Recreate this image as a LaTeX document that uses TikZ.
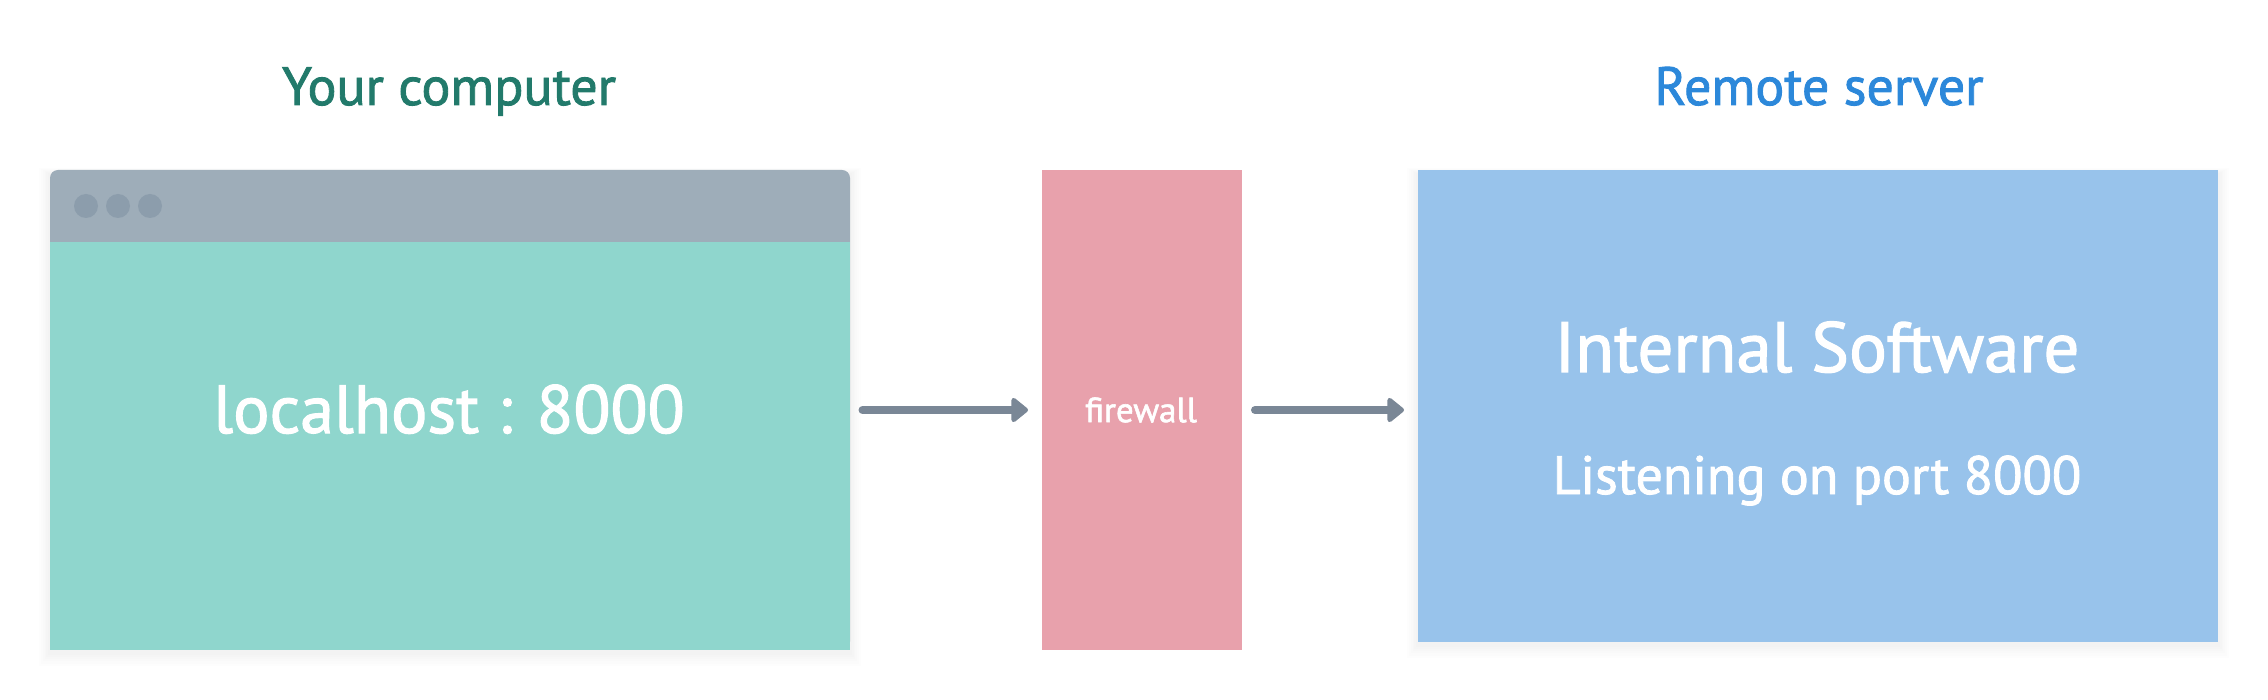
\documentclass[tikz,border=0pt]{standalone}
\usepackage{fontspec}
\setmainfont{PT Sans}[RawFeature={embolden=1.6}]
\usetikzlibrary{arrows.meta,calc}
\definecolor{barcol}{HTML}{9EADB9}
\definecolor{dotcol}{HTML}{8C9DAC}
\definecolor{bodycol}{HTML}{8FD6CD}
\definecolor{fwcol}{HTML}{E8A1AC}
\definecolor{srvcol}{HTML}{98C3EB}
\definecolor{arrcol}{HTML}{7A8796}
\definecolor{greentext}{HTML}{227A6B}
\definecolor{bluetext}{HTML}{2C88DA}
\tikzset{
  panel/.style={rectangle, inner sep=0pt, outer sep=0pt, draw=none},
  dot/.style={circle, fill=dotcol, minimum size=24pt, inner sep=0pt},
  title/.style={anchor=base, inner sep=0pt, font=\fontsize{54}{60}\selectfont},
  bigtext/.style={anchor=base, inner sep=0pt, text=white},
  arr/.style={draw=arrcol, line width=8pt, line cap=round, -{Triangle[length=18pt,width=28pt,round]}},
}
\newcommand{\softshadow}[4]{%
  \foreach \k in {1,...,6}{%
    \fill[black, opacity=0.006] ($(#1,#2)+(-\k*1.8,-\k*1.0+4)$) rectangle ($(#3,#4)+(\k*1.8,\k*2.2+3)$);
  }}
\begin{document}
\begin{tikzpicture}[x=1pt,y=-1pt]
\useasboundingbox (0,0) rectangle (2268,700);
\fill[white] (0,0) rectangle (2268,700);
% shadows
\softshadow{50}{170}{850}{649.5}
\softshadow{1418}{170}{2218}{641.5}
% window
\node[panel, fill=barcol, rounded corners=8pt, minimum width=800pt, minimum height=479.5pt, anchor=north west] (win) at (50,170) {};
\node[panel, fill=bodycol, minimum width=800pt, minimum height=407.5pt, anchor=north west] (winbody) at (50,242) {};
\node[dot] (d1) at (86,206) {};
\node[dot] (d2) at (118,206) {};
\node[dot] (d3) at (150,206) {};
\node[bigtext, font=\fontsize{68}{72}\selectfont] (lh) at (449,433) {localhost : 8000};
% firewall
\node[panel, fill=fwcol, minimum width=200pt, minimum height=480pt] (fw) at (1142,410) {};
\node[text=white, inner sep=0pt, font=\fontsize{35}{38}\selectfont] (fwt) at (1141,410) {firewall};
% server
\node[panel, fill=srvcol, minimum width=800pt, minimum height=471.5pt, anchor=north west] (srv) at (1418,170) {};
\node[bigtext, font=\fontsize{71}{76}\selectfont] (is) at (1817,372) {Internal Software};
\node[bigtext, font=\fontsize{54}{60}\selectfont] (lp) at (1817,494) {Listening on port 8000};
% titles
\node[title, text=greentext] (yc) at (449,105) {Your computer};
\node[title, text=bluetext] (rs) at (1819,105) {Remote server};
% arrows
\draw[arr, shorten <=12.5pt, shorten >=14pt] (winbody.east |- fw.center) -- (fw.west);
\draw[arr, shorten <=13pt, shorten >=14pt] (fw.east) -- (srv.west |- fw.center);
\end{tikzpicture}
\end{document}
